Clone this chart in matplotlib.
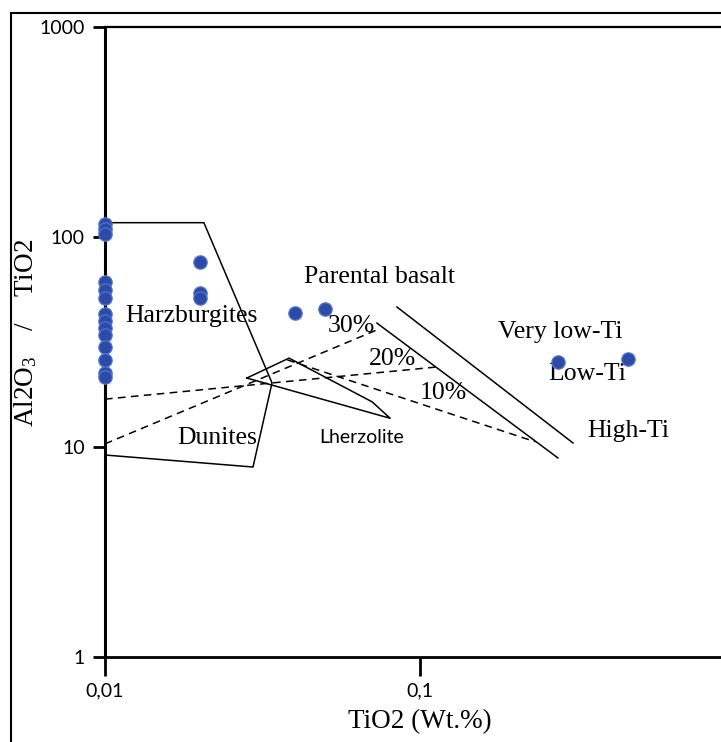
import matplotlib
matplotlib.use("Agg")
import matplotlib.pyplot as plt
from matplotlib.lines import Line2D
from matplotlib.ticker import FixedLocator, FixedFormatter, NullLocator

plt.rcParams["mathtext.fontset"] = "custom"
plt.rcParams["mathtext.rm"] = "Liberation Serif"
plt.rcParams["mathtext.it"] = "Liberation Serif:italic"
plt.rcParams["mathtext.bf"] = "Liberation Serif:bold"

# Sample compositions: TiO2 (wt.%) and Al2O3/TiO2 ratio
tio2 = [0.01, 0.01, 0.01, 0.01, 0.01, 0.01, 0.01, 0.01, 0.01, 0.01, 0.01, 0.01, 0.01, 0.01,
        0.02, 0.02, 0.02, 0.04, 0.05, 0.274, 0.457]
ratio = [115, 109, 103, 61, 56, 51, 43, 40, 37, 34, 30, 26, 22.5, 21.5,
         76, 54, 51, 43.5, 45.5, 25.4, 26.2]

# Field outlines
harz_dun_x = [0.01, 0.0206, 0.0339, 0.0295, 0.01]
harz_dun_y = [117, 117, 20.2, 8.03, 9.16]
lherz_x = [0.0282, 0.0384, 0.0705, 0.0804, 0.0282]
lherz_y = [21.3, 26.5, 16.4, 13.7, 21.3]

# Parental basalt boundaries (very low-Ti / low-Ti / high-Ti)
bound1_x = [0.0730, 0.274]
bound1_y = [38.9, 8.87]
bound2_x = [0.0845, 0.306]
bound2_y = [46.4, 10.45]

# Partial melting trends
melt20_x = [0.01, 0.1117]
melt20_y = [16.9, 24.0]
melt30_x = [0.01, 0.0730]
melt30_y = [10.35, 36.1]
melt10_x = [0.0379, 0.2317]
melt10_y = [26.0, 10.6]

x_ticks = [0.01, 0.1, 1]
x_ticklabels = ["0,01", "0,1", "1"]
y_ticks = [1, 10, 100, 1000]
y_ticklabels = ["1", "10", "100", "1000"]

W, H = 721, 742
fig = plt.figure(figsize=(W / 100, H / 100), dpi=100)
ax = fig.add_axes([105 / W, 1 - 657 / H, 630 / W, 630 / H])
ax.set_xscale("log")
ax.set_yscale("log")
ax.set_xlim(0.01, 1)
ax.set_ylim(1, 1000)

ax.xaxis.set_major_locator(FixedLocator(x_ticks))
ax.xaxis.set_major_formatter(FixedFormatter(x_ticklabels))
ax.yaxis.set_major_locator(FixedLocator(y_ticks))
ax.yaxis.set_major_formatter(FixedFormatter(y_ticklabels))
ax.xaxis.set_minor_locator(NullLocator())
ax.yaxis.set_minor_locator(NullLocator())

ax.spines["right"].set_visible(False)
ax.spines["left"].set_linewidth(2.2)
ax.spines["bottom"].set_linewidth(2.0)
ax.spines["top"].set_linewidth(1.6)
ax.tick_params(axis="x", length=13.5, width=2.0, pad=5, labelsize=14)
ax.tick_params(axis="y", length=8.6, width=2.0, pad=6, labelsize=14)
for lab in ax.get_xticklabels() + ax.get_yticklabels():
    lab.set_family("Lato")

line_kw = dict(color="black", lw=1.1)
ax.plot(harz_dun_x, harz_dun_y, **line_kw)
ax.plot(lherz_x, lherz_y, **line_kw)
ax.plot(bound1_x, bound1_y, **line_kw)
ax.plot(bound2_x, bound2_y, **line_kw)
dash_kw = dict(color="black", lw=1.1, dashes=(5, 3.5))
ax.plot(melt20_x, melt20_y, **dash_kw)
ax.plot(melt30_x, melt30_y, **dash_kw)
ax.plot(melt10_x, melt10_y, **dash_kw)

ax.scatter(tio2, ratio, s=92, c="#2C4BA6", edgecolors="#5073D2", linewidths=0.9,
           zorder=5, clip_on=False)

serif = dict(family="Liberation Serif", fontsize=18.5, va="baseline", ha="left")
ax.text(0.0428, 60.4, "Parental basalt", **serif)
ax.text(0.01157, 39.4, "Harzburgites", **serif)
ax.text(0.0510, 35.3, "30%", **serif)
ax.text(0.0689, 24.6, "20%", **serif)
ax.text(0.100, 16.9, "10%", **serif)
ax.text(0.177, 33.0, "Very low-Ti", **serif)
ax.text(0.255, 20.8, "Low-Ti", **serif)
ax.text(0.339, 11.2, "High-Ti", **serif)
ax.text(0.01694, 10.3, "Dunites", **serif)
ax.text(0.0478, 10.45, "Lherzolite", family="Lato", fontsize=14, va="baseline", ha="left")

fig.text(420 / W, 1 - 722 / H, "TiO2 (Wt.%)", family="Liberation Serif", fontsize=19.5,
         ha="center", va="center")
fig.text(26 / W, 1 - 333 / H,
         r"$\mathregular{Al2O_3\ \ \ \ /\ \ \ \ TiO2}$",
         family="Liberation Serif", fontsize=19.5, rotation=90, ha="center", va="center")

# Outer frame
fig.add_artist(Line2D([11 / W, 11 / W], [0, 1 - 13 / H], transform=fig.transFigure,
                      color="black", lw=1.5))
fig.add_artist(Line2D([11 / W, 1], [1 - 13 / H, 1 - 13 / H], transform=fig.transFigure,
                      color="black", lw=1.5))

fig.savefig("out.png", dpi=100)
